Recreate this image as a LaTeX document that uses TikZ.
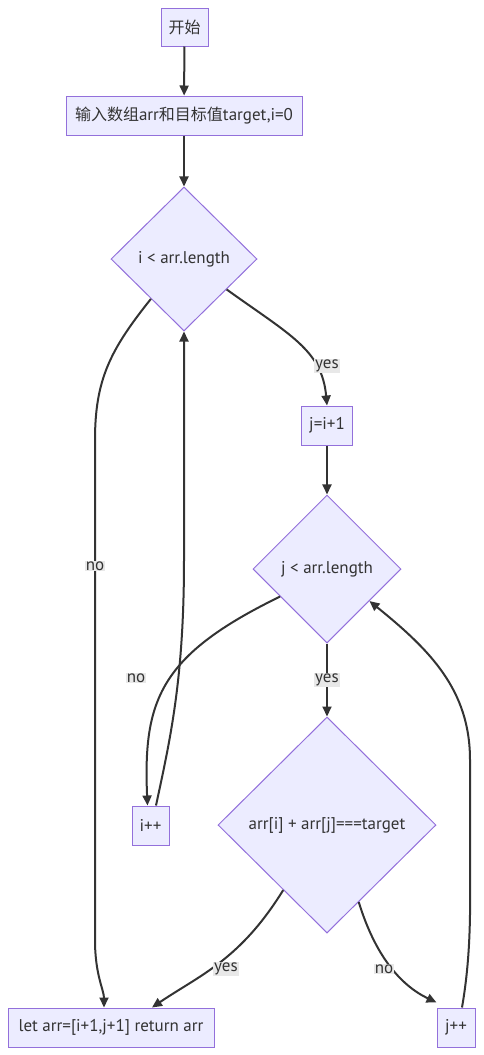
\documentclass[tikz,border=0pt]{standalone}
\usepackage{fontspec}
\setmainfont{PT Sans}
\newfontfamily\cjk{Noto Sans CJK SC}
\usetikzlibrary{shapes.geometric,arrows.meta,calc}
\definecolor{nodefill}{HTML}{ECECFF}
\definecolor{nodeline}{HTML}{9370DB}
\definecolor{ink}{HTML}{333333}
\definecolor{lblbg}{HTML}{E8E8E8}
\begin{document}
\begin{tikzpicture}[x=1pt,y=-1pt,
  every node/.style={font=\fontsize{17}{20}\selectfont, text=ink},
  box/.style={draw=nodeline, fill=nodefill, line width=1pt, rectangle, minimum height=39pt, inner sep=0pt},
  dia/.style={draw=nodeline, fill=nodefill, line width=1pt, diamond, inner sep=0pt},
  conn/.style={draw=ink, line width=2pt, -{Triangle[length=10pt,width=9pt]}},
  lbl/.style={fill=lblbg, inner sep=1pt, font=\fontsize{17}{20}\selectfont}]
\useasboundingbox (0,0) rectangle (483,1055);
\node[box, minimum width=47pt, minimum height=38pt] (start) at (184.5,27) {{\cjk\fontsize{16}{19}\selectfont 开始}};
\node[box, minimum width=236pt] (input) at (184,115.5) {{\cjk\fontsize{16}{19}\selectfont 输入数组}arr{\cjk\fontsize{16}{19}\selectfont 和目标值}target,i=0};
\node[dia, minimum width=146pt, minimum height=144pt] (d1) at (184,259) {i < arr.length};
\node[box, minimum width=51pt] (j1) at (327,425.5) {j=i+1};
\node[dia, minimum width=148pt, minimum height=148pt] (d2) at (327,569) {j < arr.length};
\node[box, minimum width=37pt] (ipp) at (150.5,825.5) {i++};
\node[dia, minimum width=218pt, minimum height=216pt] (d3) at (327,825) {arr[i] + arr[j]===target};
\node[box, minimum width=206pt] (ret) at (111,1027.5) {let arr=[i+1,j+1] return arr};
\node[box, minimum width=38pt] (jpp) at (456,1027.5) {j++};

\draw[conn] (start) -- (input);
\draw[conn] (input) -- (d1);
\draw[conn] ($(d1.east)!0.42!(d1.south)$) .. controls (290,335) and (322,350) .. (j1.north)
  node[lbl] at (327,366) {yes};
\draw[conn] ($(d1.west)!0.55!(d1.south)$) .. controls (110,350) and (95,380) .. (95,440) -- (95,940)
  .. controls (95,975) and (104,990) .. ([xshift=-7pt]ret.north)
  node[lbl] at (95,566) {no};
\draw[conn] (j1) -- (d2);
\draw[conn] (d2) -- (d3) node[lbl, midway] {yes};
\draw[conn] ($(d2.west)!0.37!(d2.south)$) .. controls (160,655) and (143,700) .. ([xshift=-3pt]ipp.north)
  node[lbl] at (136,678) {no};
\draw[conn] ([xshift=5.5pt]ipp.north) .. controls (170,740) and (184,680) .. (184,560) -- (d1.south);
\draw[conn] ($(d3.west)!0.6!(d3.south)$) .. controls (240,960) and (200,975) .. ([xshift=41pt]ret.north)
  node[lbl] at (226,969) {yes};
\draw[conn] ($(d3.east)!0.71!(d3.south)$) .. controls (375,955) and (400,985) .. ([yshift=5pt]jpp.north west)
  node[lbl] at (384,969) {no};
\draw[conn] ([xshift=6pt]jpp.north) .. controls (472,950) and (470,900) .. (470,850) -- (470,760)
  .. controls (470,690) and (430,650) .. ($(d2.east)!0.43!(d2.south)$);
\end{tikzpicture}
\end{document}
